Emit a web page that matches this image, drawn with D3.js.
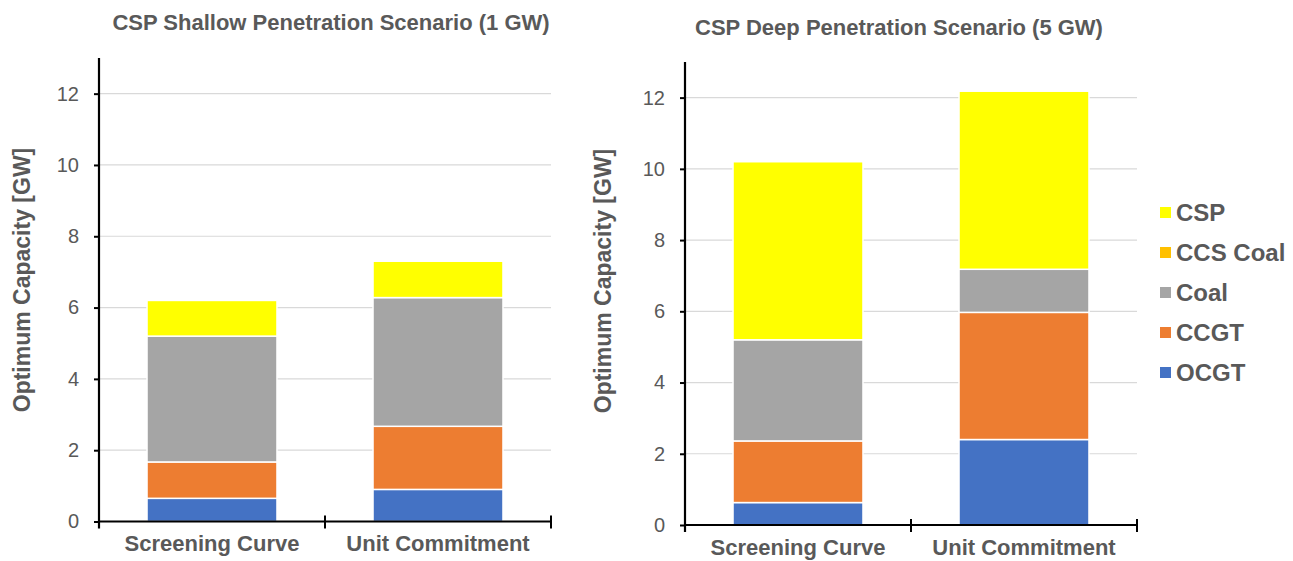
<!DOCTYPE html>
<html>
<head>
<meta charset="utf-8">
<script src="https://cdn.jsdelivr.net/npm/d3@7/dist/d3.min.js"></script>
<style>
  html, body { margin: 0; padding: 0; background: #fff; }
  svg { display: block; font-family: "Liberation Sans", Arial, Helvetica, sans-serif; }
</style>
</head>
<body>
<svg id="chart" width="1293" height="561"></svg>
<script>
// Optimum installed capacity [GW] by technology, two CSP scenarios
const categories = ["Screening Curve", "Unit Commitment"];
const seriesNames = ["OCGT", "CCGT", "Coal", "CCS Coal", "CSP"];
const seriesColors = ["#4472C4", "#ED7D31", "#A5A5A5", "#FFC000", "#FFFF00"];
const legendOrder = ["CSP", "CCS Coal", "Coal", "CCGT", "OCGT"];
const yTicks = [0, 2, 4, 6, 8, 10, 12];

// Shallow penetration (1 GW CSP)
const shallowOCGT = [0.65, 0.90];
const shallowCCGT = [1.02, 1.77];
const shallowCoal = [3.53, 3.61];
const shallowCCSCoal = [0, 0];
const shallowCSP = [1.00, 1.02];

// Deep penetration (5 GW CSP)
const deepOCGT = [0.63, 2.40];
const deepCCGT = [1.73, 3.57];
const deepCoal = [2.84, 1.21];
const deepCCSCoal = [0, 0];
const deepCSP = [5.00, 5.00];

const svg = d3.select("#chart");
const textGray = "#595959";

function buildRows(ocgt, ccgt, coal, ccs, csp) {
  return categories.map((c, i) => ({
    category: c, "OCGT": ocgt[i], "CCGT": ccgt[i], "Coal": coal[i], "CCS Coal": ccs[i], "CSP": csp[i]
  }));
}

function drawPanel(opts) {
  const { title, rows, x0, x1, yTop, yBottom, titleX, titleY, labelX, labelY } = opts;
  const g = svg.append("g");

  const x = d3.scaleBand().domain(categories).range([x0, x1]).padding(0);
  const y = d3.scaleLinear().domain([0, 13]).range([yBottom, yTop]);
  const barW = x.bandwidth() * 0.575;

  // gridlines
  g.append("g").selectAll("line").data(yTicks.filter(t => t > 0)).join("line")
    .attr("x1", x0).attr("x2", x1)
    .attr("y1", d => y(d)).attr("y2", d => y(d))
    .attr("stroke", "#d9d9d9").attr("stroke-width", 1.2);

  // stacked bars
  const stack = d3.stack().keys(seriesNames)(rows);
  const color = d3.scaleOrdinal().domain(seriesNames).range(seriesColors);
  g.append("g").selectAll("g").data(stack).join("g")
    .attr("fill", d => color(d.key))
    .selectAll("rect").data(d => d.filter(s => s[1] - s[0] > 0)).join("rect")
    .attr("x", d => x(d.data.category) + (x.bandwidth() - barW) / 2)
    .attr("width", barW)
    .attr("y", d => y(d[1]))
    .attr("height", d => y(d[0]) - y(d[1]))
    .attr("stroke", "#fff").attr("stroke-width", 1.5);

  // y axis
  const yAxis = d3.axisLeft(y).tickValues(yTicks).tickSize(5).tickPadding(15).tickFormat(d3.format("d"));
  const ya = g.append("g").attr("transform", `translate(${x0},0)`).call(yAxis);
  ya.select(".domain").remove();
  ya.selectAll(".tick line").attr("stroke", "#000").attr("stroke-width", 2);
  ya.selectAll(".tick text").attr("fill", textGray).style("font-size", "20px");
  g.append("line").attr("x1", x0).attr("x2", x0).attr("y1", yTop).attr("y2", yBottom + 7)
    .attr("stroke", "#000").attr("stroke-width", 2.2);

  // x axis
  const xAxis = d3.axisBottom(x).tickSize(0).tickPadding(14);
  const xa = g.append("g").attr("transform", `translate(0,${yBottom})`).call(xAxis);
  xa.select(".domain").remove();
  xa.selectAll(".tick text").attr("fill", textGray)
    .style("font-size", "22px").style("font-weight", "bold");
  g.append("line").attr("x1", x0).attr("x2", x1).attr("y1", yBottom).attr("y2", yBottom)
    .attr("stroke", "#000").attr("stroke-width", 2.2);
  const edges = categories.map(c => x(c)).concat([x1]);
  g.append("g").selectAll("line").data(edges.slice(1)).join("line")
    .attr("x1", d => d).attr("x2", d => d)
    .attr("y1", yBottom - 6).attr("y2", yBottom + 7)
    .attr("stroke", "#000").attr("stroke-width", 2);

  // title
  g.append("text").attr("x", titleX).attr("y", titleY).attr("text-anchor", "middle")
    .attr("fill", textGray).style("font-size", "22px").style("font-weight", "bold")
    .text(title);

  // y label
  g.append("text")
    .attr("transform", `translate(${labelX},${labelY}) rotate(-90)`)
    .attr("text-anchor", "middle")
    .attr("fill", textGray).style("font-size", "23px").style("font-weight", "bold")
    .text("Optimum Capacity [GW]");
}

drawPanel({
  title: "CSP Shallow Penetration Scenario (1 GW)",
  rows: buildRows(shallowOCGT, shallowCCGT, shallowCoal, shallowCCSCoal, shallowCSP),
  x0: 99, x1: 551, yTop: 58, yBottom: 521.5, titleX: 331, titleY: 30, labelX: 30, labelY: 280
});

drawPanel({
  title: "CSP Deep Penetration Scenario (5 GW)",
  rows: buildRows(deepOCGT, deepCCGT, deepCoal, deepCCSCoal, deepCSP),
  x0: 685, x1: 1137, yTop: 62, yBottom: 525, titleX: 899, titleY: 35, labelX: 611, labelY: 281
});

// legend
const legendColor = d3.scaleOrdinal().domain(seriesNames).range(seriesColors);
const legend = svg.append("g").attr("transform", "translate(1160,212)");
const item = legend.selectAll("g").data(legendOrder).join("g")
  .attr("transform", (d, i) => `translate(0,${i * 40})`);
item.append("rect").attr("x", 0).attr("y", -5).attr("width", 11).attr("height", 11)
  .attr("fill", d => legendColor(d));
item.append("text").attr("x", 16).attr("y", 0).attr("dy", "0.36em")
  .attr("fill", textGray).style("font-size", "24px").style("font-weight", "bold")
  .text(d => d);
</script>
</body>
</html>
